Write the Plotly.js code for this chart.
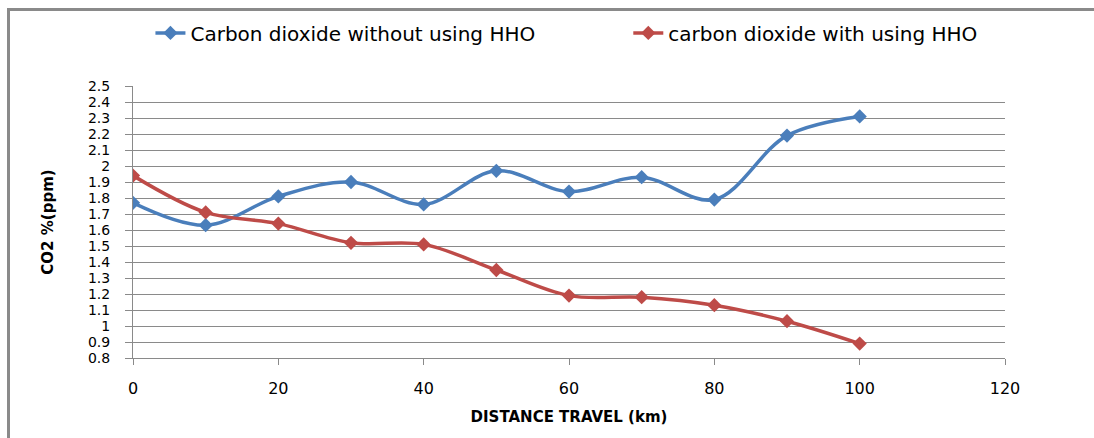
<!DOCTYPE html>
<html>
<head>
<meta charset="utf-8">
<script src="https://cdn.plot.ly/plotly-3.0.1.min.js"></script>
<style>
  html, body { margin: 0; padding: 0; background: #fff; overflow: hidden; width: 1094px; height: 438px; }
  #chart { width: 1094px; height: 438px; }
  #frame { position: absolute; left: 7px; top: 8px; width: 1120px; height: 460px;
           border-left: 3px solid #8a8a8a; border-top: 3px solid #8a8a8a; pointer-events: none; }
</style>
</head>
<body>
<div id="chart"></div>
<div id="frame"></div>
<script>
const distance = [0, 10, 20, 30, 40, 50, 60, 70, 80, 90, 100];
const withoutHHO = [1.77, 1.63, 1.81, 1.90, 1.76, 1.97, 1.84, 1.93, 1.79, 2.19, 2.31];
const withHHO = [1.94, 1.71, 1.64, 1.52, 1.51, 1.35, 1.19, 1.18, 1.13, 1.03, 0.89];
const seriesNames = ["Carbon dioxide without using HHO", "carbon dioxide with using HHO"];
const xTicks = [0, 20, 40, 60, 80, 100, 120];
const yTicks = [0.8, 0.9, 1, 1.1, 1.2, 1.3, 1.4, 1.5, 1.6, 1.7, 1.8, 1.9, 2, 2.1, 2.2, 2.3, 2.4, 2.5];
const yTickText = ["0.8", "0.9", "1", "1.1", "1.2", "1.3", "1.4", "1.5", "1.6", "1.7", "1.8", "1.9", "2", "2.1", "2.2", "2.3", "2.4", "2.5"];

const traces = [
  {
    x: distance, y: withoutHHO, name: seriesNames[0], type: 'scatter', mode: 'lines+markers',
    line: { color: '#4a7ebb', width: 3.5, shape: 'spline', smoothing: 1 },
    marker: { symbol: 'diamond', size: 11, color: '#4a7ebb' },
    legend: 'legend'
  },
  {
    x: distance, y: withHHO, name: seriesNames[1], type: 'scatter', mode: 'lines+markers',
    line: { color: '#be4b48', width: 3.5, shape: 'spline', smoothing: 1 },
    marker: { symbol: 'diamond', size: 11, color: '#be4b48' },
    legend: 'legend2'
  }
];

const legendFont = { family: 'DejaVu Sans', size: 20, color: '#000' };

const layout = {
  width: 1094, height: 438,
  margin: { l: 133, r: 89, t: 86, b: 80, autoexpand: false },
  paper_bgcolor: '#fff', plot_bgcolor: '#fff',
  showlegend: true,
  legend: {
    orientation: 'h', x: 0.02, xanchor: 'left', y: 1.195, yanchor: 'middle',
    font: legendFont, bgcolor: 'rgba(0,0,0,0)'
  },
  legend2: {
    orientation: 'h', x: 0.568, xanchor: 'left', y: 1.195, yanchor: 'middle',
    font: legendFont, bgcolor: 'rgba(0,0,0,0)'
  },
  xaxis: {
    range: [0, 120], tickvals: xTicks, ticktext: xTicks.map(String),
    showgrid: false, zeroline: false, showline: true, linecolor: '#8a8a8a', linewidth: 1,
    ticks: 'outside', ticklen: 6, tickcolor: '#8a8a8a', ticklabelstandoff: 10,
    tickfont: { family: 'DejaVu Sans', size: 16, color: '#000' },
    title: { text: '<b>DISTANCE TRAVEL (km)</b>', font: { family: 'DejaVu Sans', size: 15, color: '#000' }, standoff: 14 }
  },
  yaxis: {
    range: [0.8, 2.5], tickvals: yTicks, ticktext: yTickText,
    showgrid: true, gridcolor: '#8a8a8a', gridwidth: 1, zeroline: false,
    showline: true, linecolor: '#8a8a8a', linewidth: 1,
    ticks: 'outside', ticklen: 7, tickcolor: '#8a8a8a', ticklabelstandoff: 12,
    tickfont: { family: 'DejaVu Sans', size: 14, color: '#000' },
    title: { text: '<b>CO2 %(ppm)</b>', font: { family: 'DejaVu Sans', size: 15, color: '#000' }, standoff: 30 }
  }
};

Plotly.newPlot('chart', traces, layout, { displayModeBar: false, staticPlot: true });
</script>
</body>
</html>
